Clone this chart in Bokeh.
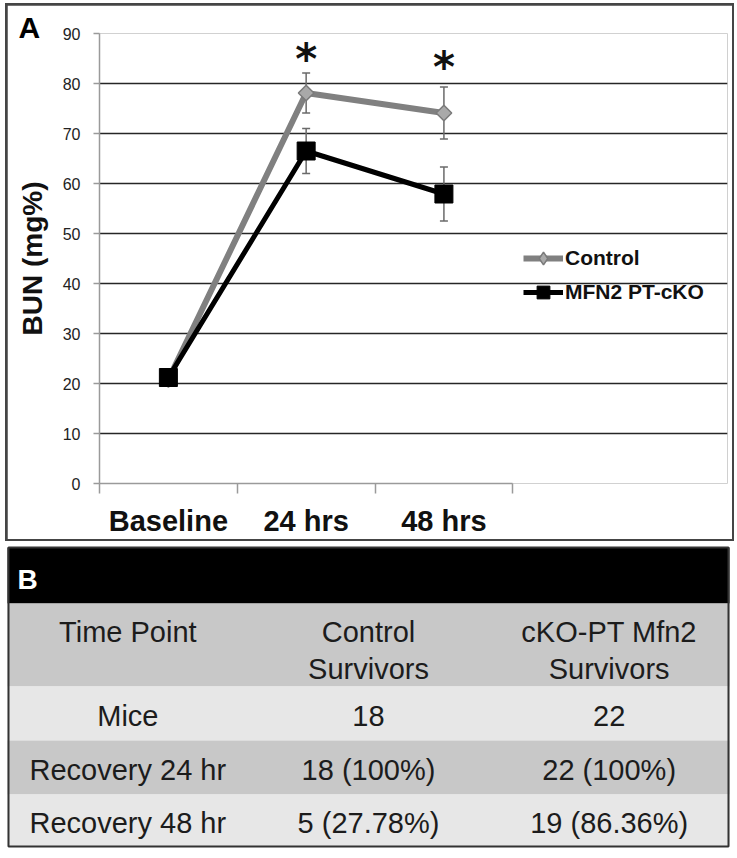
import numpy as np
from bokeh.plotting import figure
from bokeh.models import Range1d, FixedTicker, Legend, LegendItem
from bokeh.layouts import column
from bokeh.embed import file_html
from bokeh.resources import INLINE
from bokeh.core.properties import value

# ---------------- data ----------------
timepoints = ["Baseline", "24 hrs", "48 hrs"]
control_mean = [20.8, 78.1, 74.1]
control_err = [0.5, 4.0, 5.2]
cko_mean = [21.2, 66.5, 57.9]
cko_err = [0.5, 4.5, 5.4]
sig_index = [1, 2]          # time points marked significant
sig_y = [84.8, 83.3]        # anchor of the asterisks
y_ticks = [0, 10, 20, 30, 40, 50, 60, 70, 80, 90]

table_header = [["Time Point"], ["Control", "Survivors"], ["cKO-PT Mfn2", "Survivors"]]
table_rows = ["Mice", "Recovery 24 hr", "Recovery 48 hr"]
table_control = ["18", "18 (100%)", "5 (27.78%)"]
table_cko = ["22", "22 (100%)", "19 (86.36%)"]

FONT = "Liberation Sans"

# ---------------- panel A ----------------
n = len(timepoints)
x = [i + 0.5 for i in range(n)]
FRAME_W = 628                      # frame also hosts the legend on its right
PX_PER_CAT = 413.3 / n
x_end = FRAME_W / PX_PER_CAT

p = figure(width=725, height=534, x_range=Range1d(0, x_end), y_range=Range1d(0, 90),
           output_backend="svg", toolbar_location=None, tools="",
           min_border_left=92, min_border_right=5, min_border_top=28, min_border_bottom=56)
p.outline_line_color = None
p.background_fill_color = "white"
p.border_fill_color = "white"

p.title.text = "A"
p.title.text_font = FONT
p.title.text_font_size = "30px"
p.title.text_font_style = "bold"
p.title.text_color = "black"
p.title.align = "left"
p.title.offset = -81
p.title.standoff = -21
p.title.vertical_align = "bottom"

p.xgrid.visible = False
p.ygrid.ticker = FixedTicker(ticks=y_ticks[1:])
p.ygrid.bounds = (0, n)
p.ygrid.grid_line_color = "#262626"
p.ygrid.grid_line_width = 1.3

ax_col = "#9a9a9a"
p.yaxis.ticker = FixedTicker(ticks=y_ticks)
p.yaxis.axis_line_color = ax_col
p.yaxis.axis_line_width = 1.5
p.yaxis.major_tick_line_color = ax_col
p.yaxis.major_tick_line_width = 1.5
p.yaxis.major_tick_out = 6
p.yaxis.major_tick_in = 0
p.yaxis.minor_tick_line_color = None
p.yaxis.major_label_text_font = FONT
p.yaxis.major_label_text_font_size = "16px"
p.yaxis.major_label_text_color = "#222222"
p.yaxis.major_label_standoff = 13
p.yaxis.axis_label = "BUN (mg%)"
p.yaxis.axis_label_text_font = FONT
p.yaxis.axis_label_text_font_size = "28px"
p.yaxis.axis_label_text_font_style = "bold"
p.yaxis.axis_label_text_color = "#111111"
p.yaxis.axis_label_standoff = 12

p.xaxis.bounds = (0, n)
p.xaxis.ticker = FixedTicker(ticks=x, minor_ticks=list(range(n + 1)))
p.xaxis.major_label_overrides = {xi: t for xi, t in zip(x, timepoints)}
p.xaxis.axis_line_color = ax_col
p.xaxis.axis_line_width = 1.5
p.xaxis.major_tick_line_color = None
p.xaxis.major_tick_out = 0
p.xaxis.major_tick_in = 0
p.xaxis.minor_tick_line_color = ax_col
p.xaxis.minor_tick_line_width = 1.5
p.xaxis.minor_tick_out = 10
p.xaxis.minor_tick_in = 0
p.xaxis.major_label_text_font = FONT
p.xaxis.major_label_text_font_size = "29px"
p.xaxis.major_label_text_font_style = "bold"
p.xaxis.major_label_text_color = "#111111"
p.xaxis.major_label_standoff = 11

# error bars
err_col = "#6a6a6a"
for mean, err in ((control_mean, control_err), (cko_mean, cko_err)):
    lo = [m - e for m, e in zip(mean, err)]
    hi = [m + e for m, e in zip(mean, err)]
    p.segment(x0=x, y0=lo, x1=x, y1=hi, line_color=err_col, line_width=1.5)
    p.scatter(x=x + x, y=lo + hi, marker="dash", size=8, line_color=err_col, line_width=1.5)

# series
l1 = p.line(x, control_mean, line_color="#808080", line_width=6)
m1 = p.scatter(x, control_mean, marker="square", angle=np.pi / 4, size=11,
               fill_color="#a9a9a9", line_color="#7a7a7a", line_width=1.5)
leg1 = p.scatter([np.nan], [np.nan], marker="diamond", size=11,
                 fill_color="#a9a9a9", line_color="#7a7a7a", line_width=1.5)
l2 = p.line(x, cko_mean, line_color="black", line_width=5)
m2 = p.scatter(x, cko_mean, marker="square", size=18, fill_color="black", line_color="black")

# significance asterisks
p.text(x=[x[i] for i in sig_index], y=sig_y, text=["*"] * len(sig_index),
       text_font=value("DejaVu Sans"), text_font_size="42px", text_font_style="bold",
       text_align="center", text_baseline="alphabetic", text_color="#111111")

legend = Legend(items=[LegendItem(label="Control", renderers=[l1, leg1]),
                       LegendItem(label="MFN2 PT-cKO", renderers=[l2, m2])],
                location=(424, 175), glyph_width=40, glyph_height=32, spacing=2,
                label_standoff=2, padding=0, margin=0,
                border_line_color=None, background_fill_alpha=0,
                label_text_font=FONT, label_text_font_size="21px",
                label_text_font_style="bold", label_text_color="#111111")
p.add_layout(legend)

panel_a = column(p, margin=(3, 0, 0, 5),
                 styles={"padding": "2px", "background-color": "#454545"})

# ---------------- panel B (table) ----------------
t = figure(width=737, height=317, x_range=Range1d(0, 737), y_range=Range1d(858, 541),
           output_backend="svg", toolbar_location=None, tools="",
           x_axis_type=None, y_axis_type=None,
           min_border_left=0, min_border_right=0, min_border_top=0, min_border_bottom=0)
t.outline_line_color = None
t.grid.visible = False
t.border_fill_color = "white"
t.background_fill_color = "white"

table_left, table_right, table_top = 7, 729, 547
band_heights = [56, 83, 54, 54, 52]
band_colors = ["black", "#c8c8c8", "#e7e7e7", "#c8c8c8", "#e7e7e7"]
tops = list(np.cumsum([table_top] + band_heights[:-1]))
bottoms = [a + h for a, h in zip(tops, band_heights)]
t.quad(left=table_left, right=table_right, top=tops, bottom=bottoms,
       fill_color=band_colors, line_color=None)
t.quad(left=[table_left + 1], right=[table_right - 1], top=[tops[0]], bottom=[bottoms[-1]],
       fill_color=None, line_color="#333333", line_width=2)

t.text(x=[table_left + 10], y=[tops[0] + 32], text=["B"], text_font=value(FONT),
       text_font_size="28px", text_font_style="bold", text_color="white",
       text_baseline="alphabetic")

ncol = len(table_header)
colw = (table_right - table_left) / ncol
cx = [table_left + colw * (i + 0.5) for i in range(ncol)]
txt_col = "#1c1c1c"

hx, hy, ht = [], [], []
for i, lines in enumerate(table_header):
    for j, line in enumerate(lines):
        hx.append(cx[i]); hy.append(tops[1] + 28 + 37 * j); ht.append(line)
t.text(x=hx, y=hy, text=ht, text_font=value(FONT), text_font_size="29px",
       text_align="center", text_baseline="alphabetic", text_color=txt_col)

bx, by, bt = [], [], []
for r, cells in enumerate(zip(table_rows, table_control, table_cko)):
    yc = (tops[2 + r] + bottoms[2 + r]) / 2 + 2
    for i, c in enumerate(cells):
        bx.append(cx[i]); by.append(yc); bt.append(c)
t.text(x=bx, y=by, text=bt, text_font=value(FONT), text_font_size="29px",
       text_align="center", text_baseline="alphabetic", text_color=txt_col)

open("out.html", "w").write(file_html([panel_a, t], INLINE))
